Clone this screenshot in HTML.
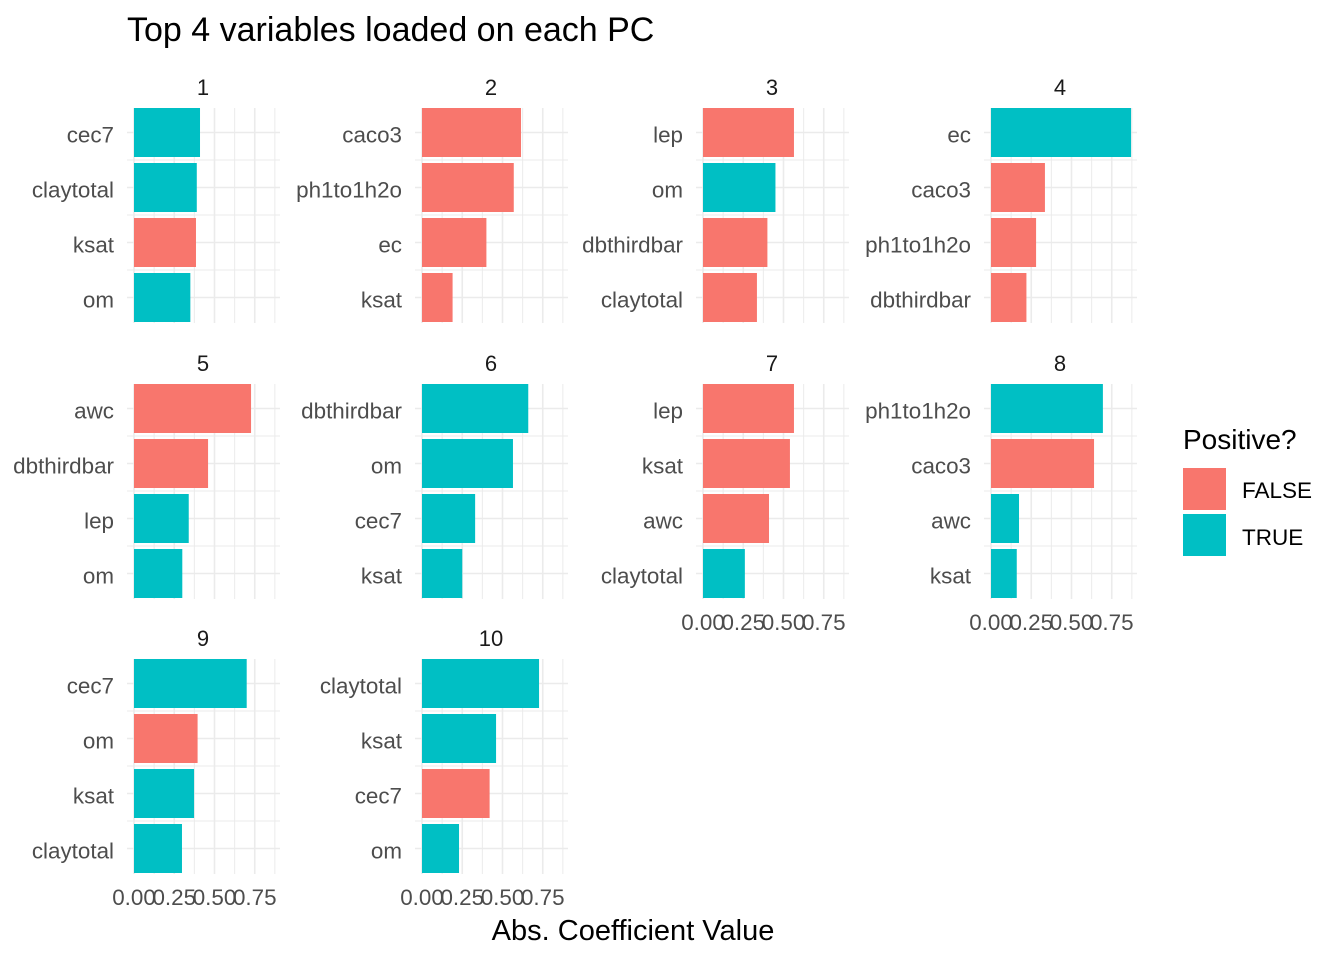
<!DOCTYPE html>
<html><head><meta charset="utf-8"><style>
body{margin:0;background:#fff;}
svg{display:block;font-family:"Liberation Sans",Arial,sans-serif;}
</style></head><body>
<svg id="chart" width="1344" height="960" xmlns="http://www.w3.org/2000/svg">
<text x="127" y="41" font-size="34" fill="#000">Top 4 variables loaded on each PC</text>
<text x="633" y="940" font-size="29" fill="#000" text-anchor="middle">Abs. Coefficient Value</text>
<g>
<text x="1183" y="449" font-size="28" fill="#000">Positive?</text>
<rect x="1183" y="468" width="43" height="42" fill="#F8766D"/>
<text x="1242" y="498" font-size="22.5" fill="#000">FALSE</text>
<rect x="1183" y="514" width="43" height="42" fill="#00BFC4"/>
<text x="1242" y="545" font-size="22.5" fill="#000">TRUE</text>
</g>
<g id="panels"></g>
</svg>
<script>
const pcs = ["1","2","3","4","5","6","7","8","9","10"];
const vars = [
 ["cec7","claytotal","ksat","om"],
 ["caco3","ph1to1h2o","ec","ksat"],
 ["lep","om","dbthirdbar","claytotal"],
 ["ec","caco3","ph1to1h2o","dbthirdbar"],
 ["awc","dbthirdbar","lep","om"],
 ["dbthirdbar","om","cec7","ksat"],
 ["lep","ksat","awc","claytotal"],
 ["ph1to1h2o","caco3","awc","ksat"],
 ["cec7","om","ksat","claytotal"],
 ["claytotal","ksat","cec7","om"]
];
const values = [
 [0.41,0.39,0.385,0.35],
 [0.615,0.57,0.40,0.19],
 [0.565,0.45,0.40,0.335],
 [0.87,0.335,0.28,0.22],
 [0.727,0.46,0.34,0.30],
 [0.66,0.565,0.33,0.25],
 [0.565,0.54,0.41,0.26],
 [0.695,0.64,0.174,0.16],
 [0.70,0.395,0.373,0.298],
 [0.727,0.46,0.42,0.23]
];
const positive = [
 [true,true,false,true],
 [false,false,false,false],
 [false,true,false,false],
 [true,false,false,false],
 [false,false,true,true],
 [true,true,true,true],
 [false,false,false,true],
 [true,false,true,true],
 [true,false,true,true],
 [true,true,false,true]
];
const tickVals = [0,0.25,0.5,0.75];
const tickLabels = ["0.00","0.25","0.50","0.75"];

const NS="http://www.w3.org/2000/svg";
const g=document.getElementById('panels');
const colZero=[134,422,703,991];
const rowTop=[108,384,659];
const PX=161, STEP=55, BARH=49, PH=215;
function mk(tag,attrs,parent){const e=document.createElementNS(NS,tag);for(const k in attrs)e.setAttribute(k,attrs[k]);parent.appendChild(e);return e;}
pcs.forEach((pc,i)=>{
  const c=i%4, r=Math.floor(i/4);
  const x0=colZero[c], top=rowTop[r];
  const sx=v=>x0+v*PX;
  const pg=mk('g',{},g);
  
  
  const left=x0-7, right=x0+146;
  for(let k=0;k<8;k++){
    const v=k*0.125, x=sx(v);
    if(x>right)break;
    const ln=mk('line',{x1:x,x2:x,y1:top,y2:top+PH,stroke:'#ebebeb','stroke-width':k%2?1:1.6},pg);
    
    
  }
  for(let j=0;j<4;j++){
    const cy=top+24.5+j*STEP;
    const ln=mk('line',{x1:left,x2:right,y1:cy,y2:cy,stroke:'#ebebeb','stroke-width':1.6},pg);
    
    
    if(j<3){const m=mk('line',{x1:left,x2:right,y1:cy+STEP/2,y2:cy+STEP/2,stroke:'#ebebeb','stroke-width':1},pg);
      
      }
  }
  const st=mk('text',{x:x0+(right-x0)/2-4,y:top-13,'font-size':22,'text-anchor':'middle',fill:'#1a1a1a'},pg);
  st.textContent=pc;
  
  
  vars[i].forEach((vn,j)=>{
    const cy=top+24.5+j*STEP;
    const b=mk('rect',{x:x0,y:cy-BARH/2,width:Math.max(0,sx(values[i][j])-x0),height:BARH,fill:positive[i][j]?'#00BFC4':'#F8766D'},pg);
    
    
    const t=mk('text',{x:x0-20,y:cy+10,'font-size':22.4,'text-anchor':'end',fill:'#4d4d4d'},pg);
    t.textContent=vn;
    
    
  });
  const hasBelow = i+4<pcs.length;
  if(!hasBelow){
    tickVals.forEach((v,k)=>{
      const t=mk('text',{x:sx(v),y:top+PH+31,'font-size':22.4,'text-anchor':'middle',fill:'#4d4d4d'},pg);
      t.textContent=tickLabels[k];
      
      
    });
  }
});
</script>
</body></html>
